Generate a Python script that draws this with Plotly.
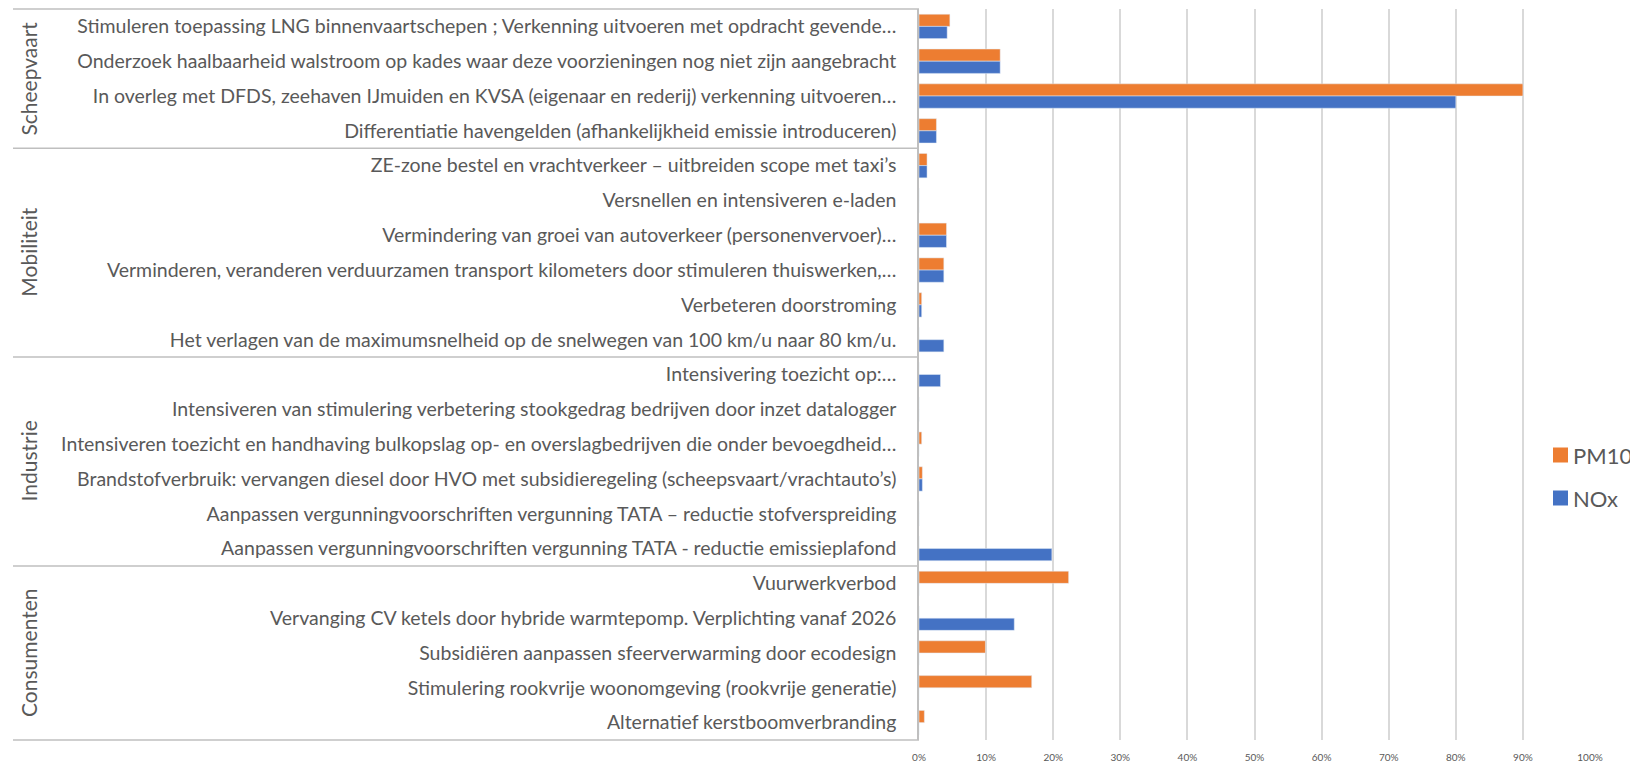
import plotly.graph_objects as go

groups = ["Scheepvaart", "Mobiliteit", "Industrie", "Consumenten"]
group_sizes = [4, 6, 6, 5]

categories = [
    "Stimuleren toepassing LNG binnenvaartschepen ; Verkenning uitvoeren met opdracht gevende…",
    "Onderzoek haalbaarheid walstroom op kades waar deze voorzieningen nog niet zijn aangebracht",
    "In overleg met DFDS, zeehaven IJmuiden en KVSA (eigenaar en rederij) verkenning uitvoeren…",
    "Differentiatie havengelden (afhankelijkheid emissie introduceren)",
    "ZE-zone bestel en vrachtverkeer – uitbreiden scope met taxi’s",
    "Versnellen en intensiveren e-laden",
    "Vermindering van groei van autoverkeer (personenvervoer)…",
    "Verminderen, veranderen verduurzamen transport kilometers door stimuleren thuiswerken,…",
    "Verbeteren doorstroming",
    "Het verlagen van de maximumsnelheid op de snelwegen van 100 km/u naar 80 km/u.",
    "Intensivering toezicht op:…",
    "Intensiveren van stimulering verbetering stookgedrag bedrijven door inzet datalogger",
    "Intensiveren toezicht en handhaving bulkopslag op- en overslagbedrijven die onder bevoegdheid…",
    "Brandstofverbruik: vervangen diesel door HVO met subsidieregeling (scheepsvaart/vrachtauto’s)",
    "Aanpassen vergunningvoorschriften vergunning TATA – reductie stofverspreiding",
    "Aanpassen vergunningvoorschriften vergunning TATA - reductie emissieplafond",
    "Vuurwerkverbod",
    "Vervanging CV ketels door hybride warmtepomp. Verplichting vanaf 2026",
    "Subsidiëren aanpassen sfeerverwarming door ecodesign",
    "Stimulering rookvrije woonomgeving (rookvrije generatie)",
    "Alternatief kerstboomverbranding",
]

pm10 = [4.6, 12.1, 90.0, 2.6, 1.2, 0, 4.1, 3.7, 0.4, 0,
        0, 0, 0.4, 0.5, 0, 0,
        22.3, 0, 9.9, 16.8, 0.8]
nox = [4.2, 12.1, 80.0, 2.6, 1.2, 0, 4.1, 3.7, 0.4, 3.7,
       3.2, 0, 0, 0.5, 0, 19.8,
       0, 14.2, 0, 0, 0]

series_names = ["PM10", "NOx"]
series_colors = ["#ED7D31", "#4472C4"]

x_ticks = [0, 10, 20, 30, 40, 50, 60, 70, 80, 90, 100]
x_ticktext = [f"{v}%" for v in x_ticks]

# the page body adds an 8px offset; the figure is sized to fill the rest
OFF = 8
PAGE_W, PAGE_H = 1638, 770
W, H = PAGE_W - OFF, PAGE_H - OFF
# plot area in page pixels
PX_L, PX_R, PX_T, PX_B = 919, 1590, 9, 740
L, T = PX_L - OFF, PX_T - OFF
R, B = PAGE_W - PX_R, PAGE_H - PX_B
plot_w = PX_R - PX_L
plot_h = PX_B - PX_T
n = len(categories)

TXT = "#595959"
GRID = "#D9D9D9"
FONT = "Lato, Open Sans, sans-serif"

fig = go.Figure()
for name, vals, col in zip(series_names, [pm10, nox], series_colors):
    fig.add_trace(go.Bar(y=categories, x=vals, name=name, orientation="h",
                         marker_color=col, showlegend=False))


def pxx(px):
    return (px - PX_L) / plot_w


def pxy(py):
    return 1 - (py - PX_T) / plot_h


shapes = []
bounds = [0]
for s in group_sizes:
    bounds.append(bounds[-1] + s)
for b in bounds:
    yp = 1 - b / n
    shapes.append(dict(type="line", xref="paper", yref="paper",
                       x0=pxx(13), x1=0, y0=yp, y1=yp,
                       line=dict(color="#BFBFBF", width=1.5)))

annotations = []
for g, s, b0 in zip(groups, group_sizes, bounds[:-1]):
    ymid = 1 - (b0 + s / 2) / n
    annotations.append(dict(text=g, xref="paper", yref="paper",
                            x=pxx(29), y=ymid, textangle=-90,
                            showarrow=False, xanchor="center", yanchor="middle",
                            font=dict(family=FONT, size=21, color=TXT)))

# legend drawn as squares and text
leg_y = [455, 498]
for name, col, yy in zip(series_names, series_colors, leg_y):
    shapes.append(dict(type="rect", xref="paper", yref="paper",
                       x0=pxx(1553), x1=pxx(1568),
                       y0=pxy(yy - 7.5), y1=pxy(yy + 7.5),
                       fillcolor=col, line=dict(width=0), layer="above"))
    annotations.append(dict(text=name, xref="paper", yref="paper",
                            x=pxx(1571), y=pxy(yy), showarrow=False,
                            xanchor="left", yanchor="middle",
                            font=dict(family=FONT, size=22, color=TXT)))

fig.update_layout(
    width=W, height=H,
    margin=dict(l=L, r=R, t=T, b=B, pad=0, autoexpand=False),
    paper_bgcolor="white", plot_bgcolor="white",
    barmode="group", bargap=0.3, bargroupgap=0,
    font=dict(family=FONT, color=TXT),
    showlegend=False,
    shapes=shapes, annotations=annotations,
    xaxis=dict(range=[0, 100], tickmode="array", tickvals=x_ticks, ticktext=x_ticktext,
               showgrid=True, gridcolor=GRID, gridwidth=1.5,
               zeroline=False, showline=False, automargin=False,
               tickfont=dict(family=FONT, size=10, color=TXT),
               ticklabelstandoff=10),
    yaxis=dict(type="category", autorange=False, range=[n - 0.5, -0.5],
               showline=True, linecolor="#BFBFBF", linewidth=1.5,
               ticks="", ticklabelstandoff=17, automargin=False,
               tickfont=dict(family=FONT, size=19.5, color=TXT)),
)

fig.write_html("out.html")
